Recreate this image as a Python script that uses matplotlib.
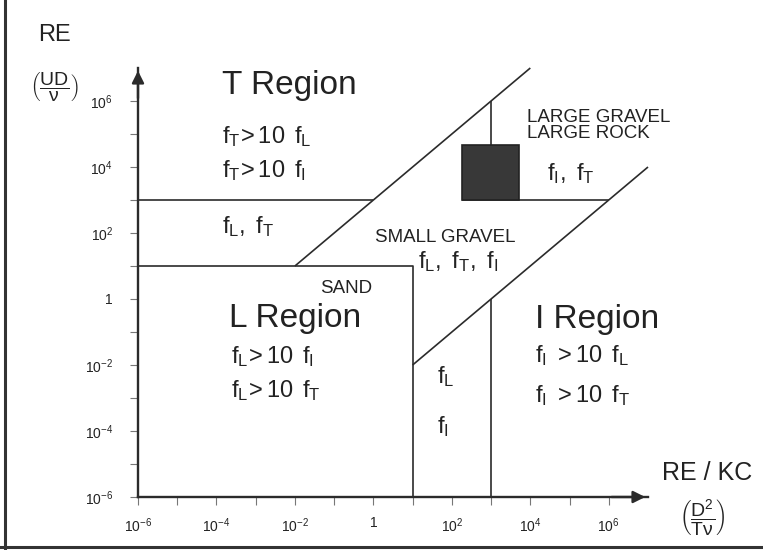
"""Flow-regime map for sediment beds: RE versus RE/KC on log-log axes."""
import matplotlib

matplotlib.use("Agg")
import matplotlib.pyplot as plt  # noqa: E402
from matplotlib.lines import Line2D  # noqa: E402

INK = "#222222"
LINE = "#2b2b2b"
TICK = "#777777"
ROCK = "#383838"

# Axis decades (both axes are log10)
x_decades = list(range(-6, 7))
y_decades = list(range(-6, 7))
x_label_decades = [-6, -4, -2, 0, 2, 4, 6]
y_label_decades = [-6, -4, -2, 0, 2, 4, 6]
x_tick_labels = [r"$10^{-6}$", r"$10^{-4}$", r"$10^{-2}$", "1",
                 r"$10^{2}$", r"$10^{4}$", r"$10^{6}$"]
y_tick_labels = [r"$10^{-6}$", r"$10^{-4}$", r"$10^{-2}$", "1",
                 r"$10^{2}$", r"$10^{4}$", r"$10^{6}$"]

# Region boundaries (x = RE/KC, y = RE)
t_bound_x = [1e-6, 1.0]
t_bound_y = [1e3, 1e3]
l_box_x = [1e-6, 10.0, 10.0]
l_box_y = [10.0, 10.0, 1e-6]
upper_diag_x = [1e-2, 1e4]
upper_diag_y = [10.0, 1e7]
lower_diag_x = [10.0, 1e7]
lower_diag_y = [1e-2, 1e4]
i_bound_x = [1e3, 1e3]
i_bound_y = [1e-6, 1.0]
gravel_base_x = [180.0, 1e6]
gravel_base_y = [1e3, 1e3]
stem_x = [1e3, 1e3]
stem_y = [4.5e4, 1e6]
rock_x = [180.0, 5300.0]
rock_y = [1e3, 4.5e4]


def _theme() -> None:
    plt.rcParams.update({
        "font.family": ["Liberation Sans", "DejaVu Sans"],
        "mathtext.fontset": "custom",
        "mathtext.rm": "Liberation Sans",
        "mathtext.it": "Liberation Sans:italic",
        "mathtext.bf": "Liberation Sans:bold",
        "text.color": INK,
    })


def f(expr: str) -> str:
    return r"$\mathregular{" + expr + "}$"


def main() -> None:
    _theme()
    fig = plt.figure(figsize=(7.63, 5.5), dpi=100)
    ax = fig.add_axes([138 / 763, 53 / 550, 510 / 763, 429 / 550])
    ax.set_xscale("log")
    ax.set_yscale("log")
    ax.set_xlim(1e-6, 1e7)
    ax.set_ylim(1e-6, 1e7)

    for s in ("top", "right"):
        ax.spines[s].set_visible(False)
    for s in ("left", "bottom"):
        ax.spines[s].set_linewidth(1.7)
        ax.spines[s].set_color(LINE)

    ax.set_xticks([10.0 ** d for d in x_decades])
    ax.set_yticks([10.0 ** d for d in y_decades])
    ax.xaxis.set_minor_locator(matplotlib.ticker.NullLocator())
    ax.yaxis.set_minor_locator(matplotlib.ticker.NullLocator())
    ax.set_xticklabels([x_tick_labels[x_label_decades.index(d)]
                        if d in x_label_decades else "" for d in x_decades])
    ax.set_yticklabels([y_tick_labels[y_label_decades.index(d)]
                        if d in y_label_decades else "" for d in y_decades])
    ax.tick_params(direction="out", length=6, width=0.8, color=TICK,
                   labelsize=10, labelcolor=INK)
    ax.tick_params(axis="y", pad=12)
    ax.tick_params(axis="x", pad=8)

    # axis arrows
    arrow = dict(arrowstyle="-|>", color=LINE, lw=1.7, mutation_scale=18)
    ax.annotate("", xy=(1e-6, 1e7), xytext=(1e-6, 10 ** 6.0),
                arrowprops=arrow, annotation_clip=False)
    ax.annotate("", xy=(1e7, 1e-6), xytext=(1e6, 1e-6),
                arrowprops=arrow, annotation_clip=False)

    kw = dict(color=LINE, lw=1.2, solid_capstyle="butt", clip_on=False)
    ax.plot(t_bound_x, t_bound_y, **kw)
    ax.plot(l_box_x, l_box_y, **kw)
    ax.plot(upper_diag_x, upper_diag_y, **kw)
    ax.plot(lower_diag_x, lower_diag_y, **kw)
    ax.plot(i_bound_x, i_bound_y, **kw)
    ax.plot(gravel_base_x, gravel_base_y, **kw)
    ax.plot(stem_x, stem_y, **kw)
    ax.fill([rock_x[0], rock_x[1], rock_x[1], rock_x[0]],
            [rock_y[0], rock_y[0], rock_y[1], rock_y[1]],
            facecolor=ROCK, edgecolor=INK, lw=1.2, zorder=3)

    big, mid, small = 24, 17, 13.5
    t = dict(va="baseline", ha="left")
    ax.text(10 ** -3.86, 10 ** 6.21, "T Region", fontsize=big, **t)
    ax.text(10 ** -3.86, 10 ** 4.73, f(r"f_T\! > 10\ \, f_L"), fontsize=mid, **t)
    ax.text(10 ** -3.86, 10 ** 3.70, f(r"f_T\! > 10\ \, f_I"), fontsize=mid, **t)
    ax.text(10 ** -3.86, 10 ** 2.00, f(r"f_L,\ f_T"), fontsize=mid, **t)

    ax.text(10 ** -1.36, 10 ** 0.18, "SAND", fontsize=small, **t)
    ax.text(10 ** -3.68, 10 ** -0.85, "L Region", fontsize=big, **t)
    ax.text(10 ** -3.63, 10 ** -1.94, f(r"f_L\! > 10\ \, f_I"), fontsize=mid, **t)
    ax.text(10 ** -3.63, 10 ** -2.97, f(r"f_L\! > 10\ \, f_T"), fontsize=mid, **t)

    ax.text(10 ** 0.04, 10 ** 1.73, "SMALL GRAVEL", fontsize=small, **t)
    ax.text(10 ** 1.14, 10 ** 0.94, f(r"f_L,\ f_T,\ f_I"), fontsize=mid, **t)

    ax.text(10 ** 3.92, 10 ** 5.36, "LARGE GRAVEL", fontsize=small, **t)
    ax.text(10 ** 3.92, 10 ** 4.88, "LARGE ROCK", fontsize=small, **t)
    ax.text(10 ** 4.43, 10 ** 3.61, f(r"f_I,\ f_T"), fontsize=mid, **t)

    ax.text(10 ** 4.12, 10 ** -0.88, "I Region", fontsize=big, **t)
    ax.text(10 ** 4.12, 10 ** -1.91, f(r"f_I\ > 10\ \, f_L"), fontsize=mid, **t)
    ax.text(10 ** 4.12, 10 ** -3.12, f(r"f_I\ > 10\ \, f_T"), fontsize=mid, **t)

    ax.text(10 ** 1.62, 10 ** -2.55, f(r"f_L"), fontsize=mid, **t)
    ax.text(10 ** 1.62, 10 ** -4.06, f(r"f_I"), fontsize=mid, **t)

    # axis titles
    fig.text(55 / 763, 1 - 35 / 550, "RE", fontsize=17, ha="center", va="center")
    fig.text(54 / 763, 1 - 87 / 550,
             r"$\left(\dfrac{\mathrm{UD}}{\mathrm{\nu}}\right)$",
             fontsize=14, ha="center", va="center")
    fig.text(662 / 763, 1 - 473 / 550, "RE / KC", fontsize=18,
             ha="left", va="center")
    fig.text(702 / 763, 1 - 518 / 550,
             r"$\left(\dfrac{\mathrm{D^2}}{\mathrm{T\nu}}\right)$",
             fontsize=14, ha="center", va="center")

    # scanned-page frame (left and bottom edges)
    fig.add_artist(Line2D([5 / 763, 5 / 763], [0, 1], transform=fig.transFigure,
                          color="#333333", lw=2.2))
    fig.add_artist(Line2D([0, 1], [3 / 550, 3 / 550], transform=fig.transFigure,
                          color="#333333", lw=2.2))

    fig.savefig("out.png", dpi=100, facecolor="white")
    plt.close(fig)


if __name__ == "__main__":
    main()
